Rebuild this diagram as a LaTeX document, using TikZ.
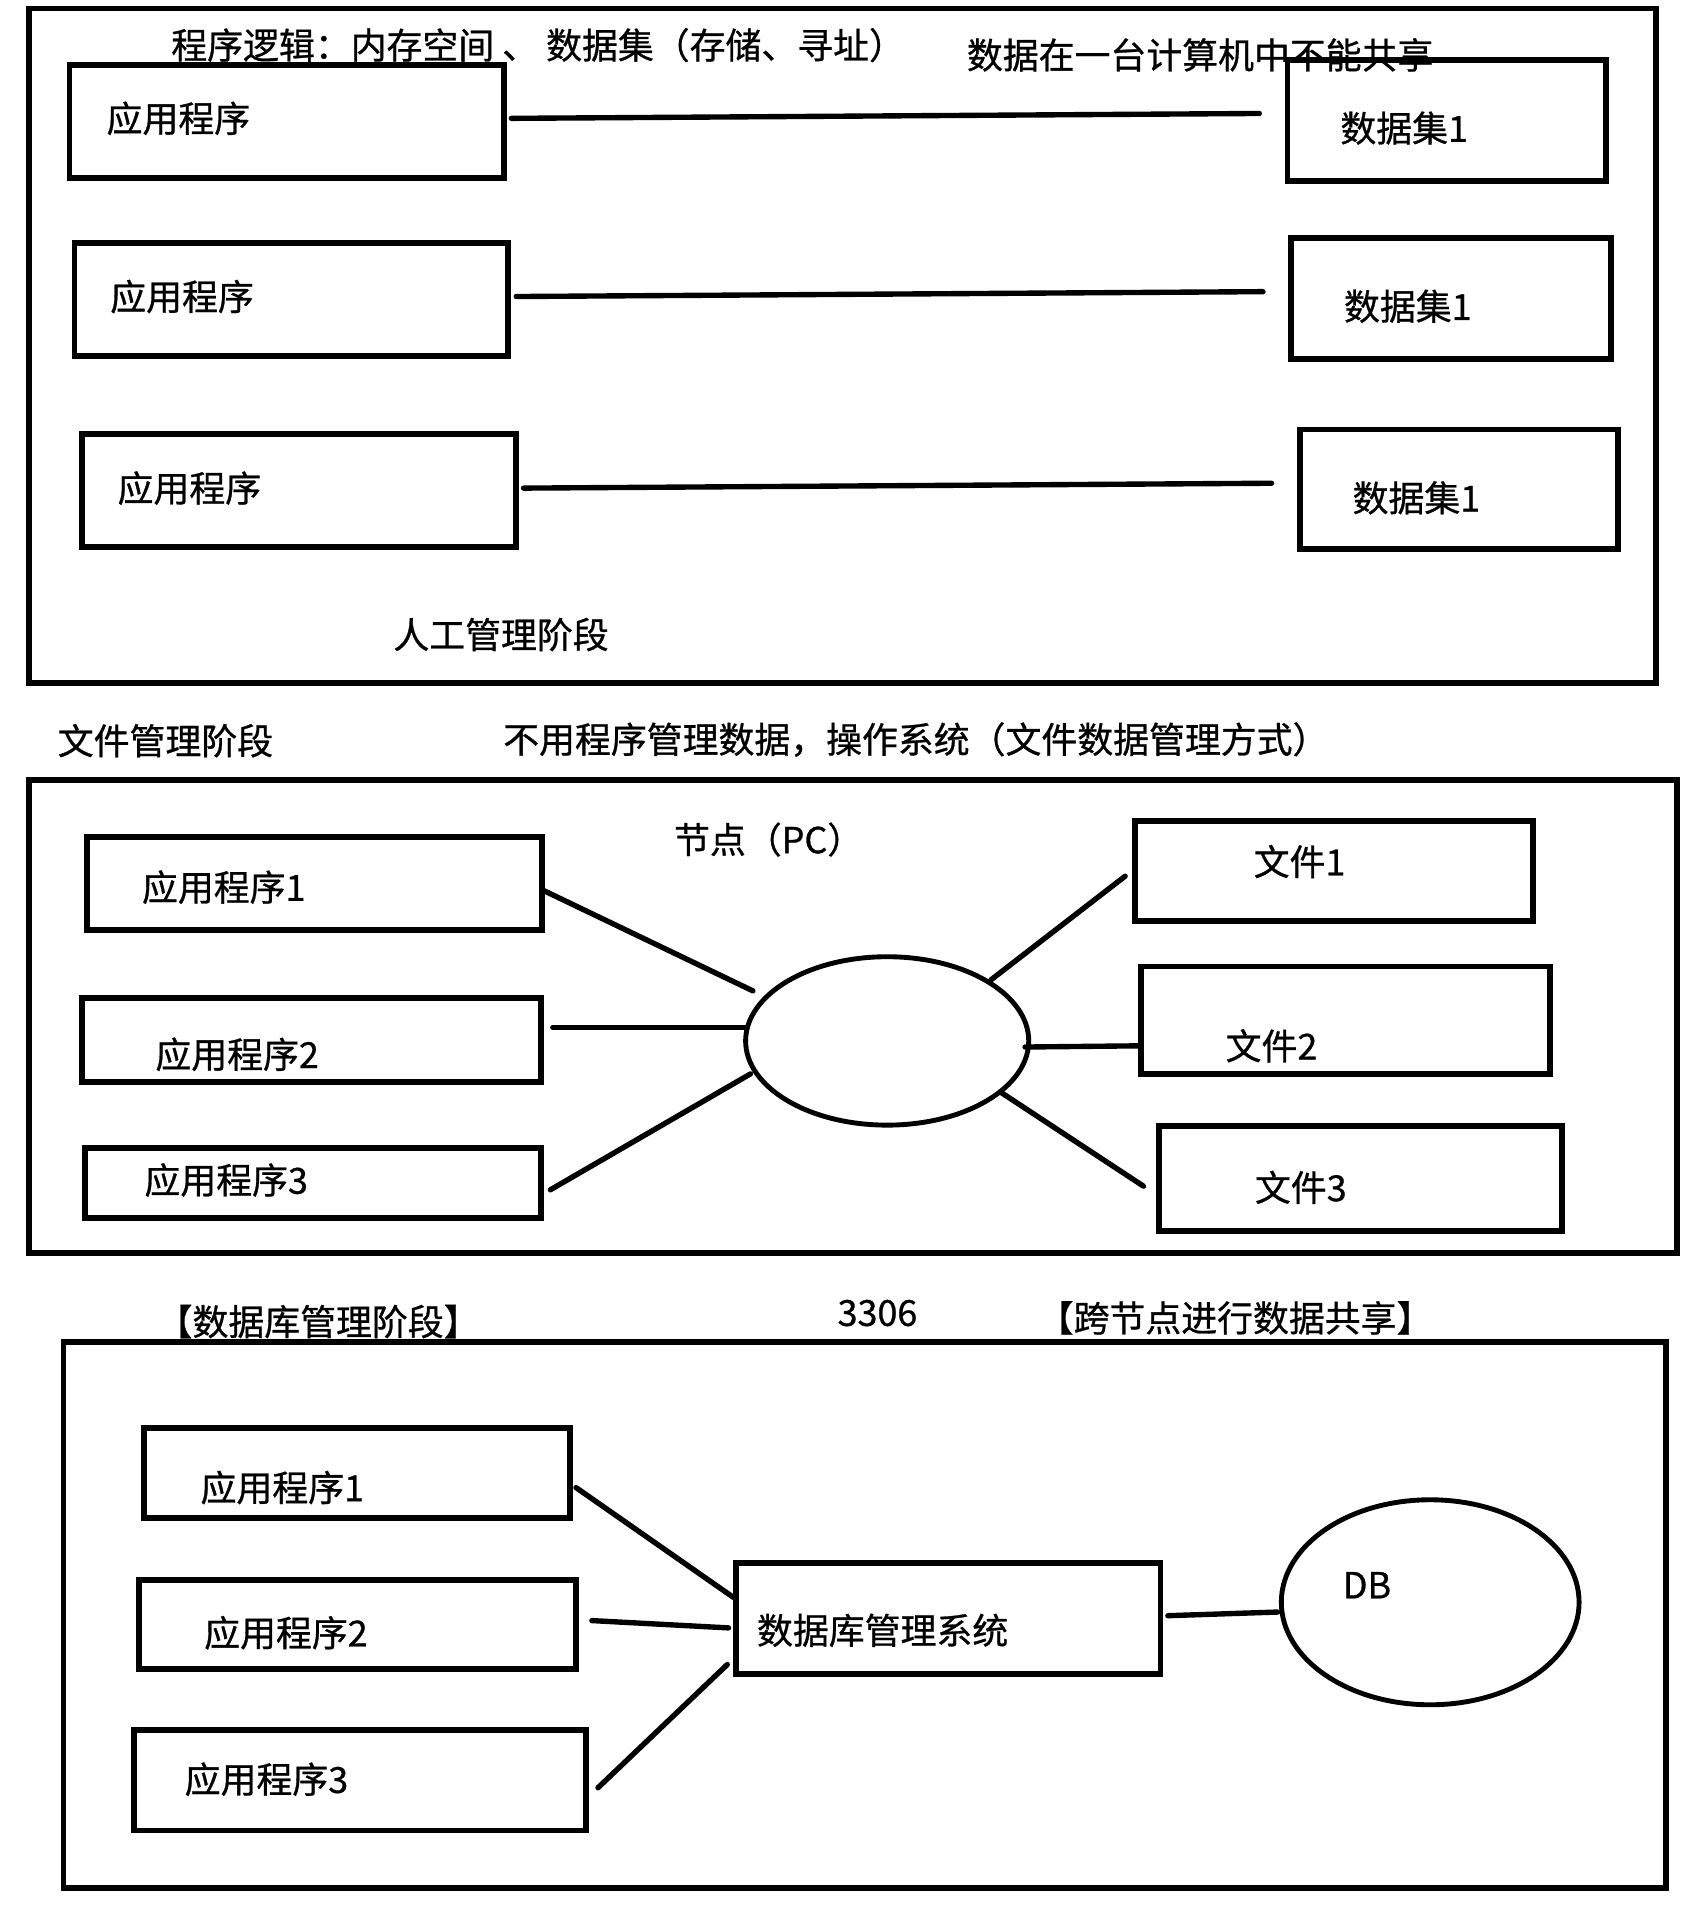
\documentclass[tikz,border=0pt]{standalone}
\usepackage{fontspec}
\setmainfont{Noto Sans CJK SC}[FakeBold=0.8]
\usetikzlibrary{shapes.geometric,calc}
\newcommand\mybox[5]{\node[box, minimum width={(#4-#2)*0.5pt}, minimum height={(#5-#3)*0.5pt}] (#1) at ({(#2+#4)/2},{(#3+#5)/2}) {};}
\begin{document}
\begin{tikzpicture}[x=0.5pt,y=-0.5pt,
  box/.style={draw, line width=2.4pt, rectangle, inner sep=0pt, outer sep=0pt},
  ell/.style={draw, line width=2pt, ellipse, inner sep=0pt, outer sep=0pt},
  frame/.style={draw, line width=2.4pt},
  conn/.style={draw, line width=2.2pt, line cap=round},
  txt/.style={anchor=west, inner sep=0pt, font=\fontsize{14.7pt}{17pt}\selectfont}]
\useasboundingbox (0,0) rectangle (1396,1566);
\fill[white] (0,0) rectangle (1396,1566);

% ---------- stage 1 ----------
\draw[frame] (24,7) rectangle (1357,560);
\node[txt] (t0) at (140,37) {程序逻辑：内存空间 、 数据集（存储、寻址）};
\node[txt] (t1) at (792,45) {数据在一台计算机中不能共享};

\mybox{a1}{57}{53}{413}{146}
\mybox{a2}{61}{199}{416}{292}
\mybox{a3}{67}{356}{423}{448}
\mybox{d1}{1055}{49}{1316}{148}
\mybox{d2}{1058}{195}{1320}{294}
\mybox{d3}{1065}{352}{1326}{450}
\node[txt] (la1) at (87,97) {应用程序};
\node[txt] (la2) at (90,243) {应用程序};
\node[txt] (la3) at (96,400) {应用程序};
\node[txt] (ld1) at (1098,105) {数据集1};
\node[txt] (ld2) at (1101,251) {数据集1};
\node[txt] (ld3) at (1108,408) {数据集1};
\draw[conn] ($(a1.east)+(6,-2.5)$) -- ($(d1.west)+(-23,-5.5)$);
\draw[conn] ($(a2.east)+(7,-2.5)$) -- ($(d2.west)+(-23,-5.5)$);
\draw[conn] ($(a3.east)+(6,-2)$) -- ($(d3.west)+(-23,-5)$);
\node[txt] (s1) at (322,520) {人工管理阶段};

% ---------- stage 2 ----------
\node[txt] (s2) at (47,607) {文件管理阶段};
\node[txt] (t2) at (412,606) {不用程序管理数据，操作系统（文件数据管理方式）};
\draw[frame] (24,639) rectangle (1374,1027);
\node[txt] (tpc) at (552,688) {节点（PC）};

\mybox{m1}{71}{686}{444}{762}
\mybox{m2}{67}{818}{443}{887}
\mybox{m3}{70}{941}{443}{998}
\node[txt] (lm1) at (116,727) {应用程序1};
\node[txt] (lm2) at (127,864) {应用程序2};
\node[txt] (lm3) at (118,967) {应用程序3};
\node[ell, minimum width=116pt, minimum height=69pt] (pc) at (727,853) {};
\mybox{f1}{930}{673}{1256}{755}
\mybox{f2}{935}{792}{1270}{880}
\mybox{f3}{950}{923}{1280}{1009}
\node[txt] (lf1) at (1027,706) {文件1};
\node[txt] (lf2) at (1004,857) {文件2};
\node[txt] (lf3) at (1028,973) {文件3};
\draw[conn] ($(m1.east)+(2,6)$) -- ($(pc.center)+(-110,-41)$);
\draw[conn] ($(m2.east)+(10,-10.5)$) -- ($(pc.center)+(-116,-11)$);
\draw[conn] ($(m3.east)+(8,5.5)$) -- ($(pc.center)+(-112,27)$);
\draw[conn] ($(pc.center)+(85,-50)$) -- ($(f1.west)+(-8,4)$);
\draw[conn] ($(pc.center)+(113,5)$) -- ($(f2.west)+(0,21)$);
\draw[conn] ($(pc.center)+(93,42)$) -- ($(f3.west)+(-13,6)$);

% ---------- stage 3 ----------
\node[txt] (s3) at (128,1083) {【数据库管理阶段】};
\node[txt] (port) at (686,1076) {3306};
\node[txt] (t3) at (850,1080) {【跨节点进行数据共享】};
\draw[frame] (52,1100) rectangle (1365,1547);

\mybox{b1}{118}{1170}{467}{1244}
\mybox{b2}{114}{1295}{472}{1368}
\mybox{b3}{110}{1418}{480}{1500}
\node[txt] (lb1) at (164,1219) {应用程序1};
\node[txt] (lb2) at (167,1338) {应用程序2};
\node[txt] (lb3) at (151,1458) {应用程序3};
\mybox{dbms}{603}{1281}{951}{1372}
\node[txt] (ldbms) at (620,1336) {数据库管理系统};
\node[ell, minimum width=122pt, minimum height=84pt] (db) at (1172,1313) {};
\node[txt] (ldb) at (1100,1299) {DB};
\draw[conn] ($(b1.east)+(5,12)$) -- ($(dbms.west)+(-2,-17.5)$);
\draw[conn] ($(b2.east)+(13,-3.5)$) -- ($(dbms.west)+(-6,7.5)$);
\draw[conn] ($(b3.east)+(10,6)$) -- ($(dbms.west)+(-7,37.5)$);
\draw[conn] ($(dbms.east)+(6,-2.5)$) -- ($(db.center)+(-125,8)$);
\end{tikzpicture}
\end{document}
